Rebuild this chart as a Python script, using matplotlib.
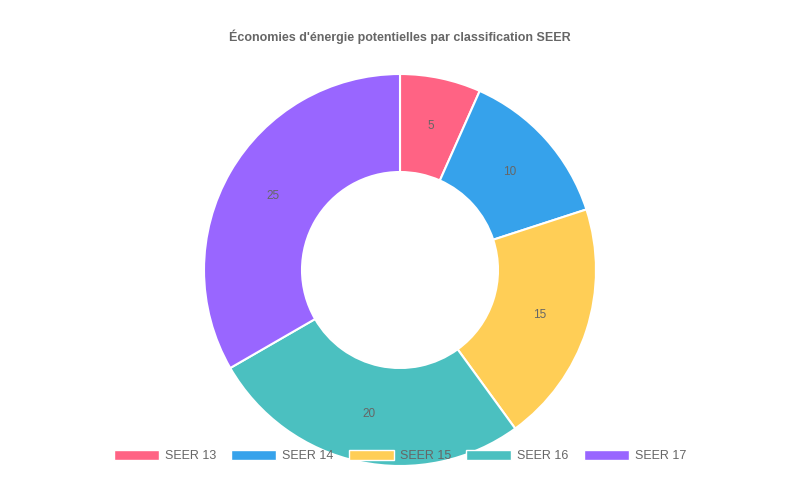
import matplotlib
matplotlib.use("Agg")
import matplotlib.pyplot as plt
from matplotlib.patches import Patch

categories = ["SEER 13", "SEER 14", "SEER 15", "SEER 16", "SEER 17"]
values = [5, 10, 15, 20, 25]
colors = ["#FF6384", "#36A2EB", "#FFCE56", "#4BC0C0", "#9966FF"]

plt.rcParams['font.family'] = ['Liberation Sans', 'DejaVu Sans']
fig = plt.figure(figsize=(8, 5), dpi=100)
ax = fig.add_axes([0.255, 0.068, 0.49, 0.784])
wedges, texts = ax.pie(values, colors=colors, startangle=90, counterclock=False,
                       radius=1, labels=[str(v) for v in values], labeldistance=0.75,
                       wedgeprops=dict(width=0.5, edgecolor="white", linewidth=1.5),
                       textprops=dict(color="#666666", fontsize=8.5, ha="center", va="center"))
ax.set_xlim(-1, 1); ax.set_ylim(-1, 1); ax.set_aspect("equal"); ax.axis("off")

fig.text(0.5, 0.926, "Économies d'énergie potentielles par classification SEER",
         ha="center", va="center", fontsize=9, fontweight="bold", color="#666666")

handles = [Patch(facecolor=c, edgecolor="white") for c in colors]
fig.legend(handles, categories, loc="center", bbox_to_anchor=(0.5, 0.088), ncol=5,
           frameon=False, fontsize=9, handlelength=3.6, handleheight=0.9,
           columnspacing=1.2, handletextpad=0.5, labelcolor="#666666")
fig.savefig("out.png", dpi=100)
